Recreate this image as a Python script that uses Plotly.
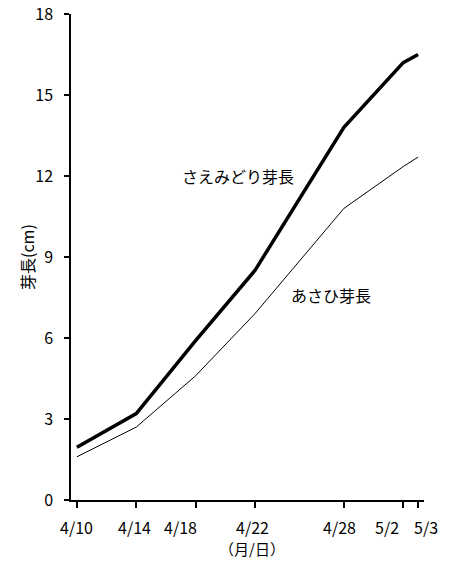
import plotly.graph_objects as go

# Dates (days after 4/10) and tick labels
days = [0, 4, 8, 12, 18, 22, 23]
tick_labels = ["4/10", "4/14", "4/18", "4/22", "4/28", "5/2", "5/3"]

saemidori = [1.95, 3.2, 5.9, 8.5, 13.8, 16.2, 16.5]
asahi = [1.6, 2.7, 4.6, 6.9, 10.8, 12.35, 12.7]

y_ticks = [0, 3, 6, 9, 12, 15, 18]

# pixel nudges of the x tick labels (style only)
label_shift = [0, -2, -15, -2, -4, -16, 8]

FONT = "Noto Sans CJK JP"

fig = go.Figure()
fig.add_trace(go.Scatter(x=days, y=saemidori, mode="lines",
                         line=dict(color="black", width=3.5), name="さえみどり芽長"))
fig.add_trace(go.Scatter(x=days, y=asahi, mode="lines",
                         line=dict(color="black", width=1), name="あさひ芽長"))

fig.add_annotation(x=10.85, y=12.0, text="さえみどり芽長", showarrow=False,
                   font=dict(family=FONT, size=16, color="black"), xanchor="center", yanchor="middle")
fig.add_annotation(x=17.16, y=7.6, text="あさひ芽長", showarrow=False,
                   font=dict(family=FONT, size=16, color="black"), xanchor="center", yanchor="middle")

for d, lab, s in zip(days, tick_labels, label_shift):
    fig.add_annotation(x=d, xref="x", y=0, yref="paper", yshift=-27, xshift=s,
                       text=lab, showarrow=False,
                       font=dict(family=FONT, size=16, color="black"),
                       xanchor="center", yanchor="middle")

fig.add_annotation(x=0.5, xref="paper", xshift=4, y=0, yref="paper", yshift=-48,
                   text="（月/日）", showarrow=False,
                   font=dict(family=FONT, size=15, color="black"), xanchor="center", yanchor="middle")
fig.add_annotation(x=0, xref="paper", xshift=-44, y=9, yref="y",
                   text="芽長(cm)", showarrow=False, textangle=-90,
                   font=dict(family=FONT, size=16, color="black"), xanchor="center", yanchor="middle")

fig.update_layout(
    width=451, height=561,
    margin=dict(l=71, r=27, t=14, b=61),
    paper_bgcolor="white", plot_bgcolor="white",
    showlegend=False,
    font=dict(family=FONT, size=16, color="black"),
    xaxis=dict(range=[-0.4, 23.4], tickvals=days, showticklabels=False,
               showgrid=False, zeroline=False, showline=True, linecolor="black", linewidth=1.5,
               ticks="outside", ticklen=6, tickcolor="black", tickwidth=1.5,
               automargin=False),
    yaxis=dict(range=[0, 18], tickvals=y_ticks,
               showgrid=False, zeroline=False, showline=True, linecolor="black", linewidth=1.5,
               ticks="outside", ticklen=5, tickcolor="black", tickwidth=1.5,
               ticklabelstandoff=8, automargin=False,
               tickfont=dict(family=FONT, size=16, color="black")),
)

fig.write_html("out.html", config={"displayModeBar": False},
               post_script="document.body.style.margin='0';document.body.style.overflow='hidden';")
